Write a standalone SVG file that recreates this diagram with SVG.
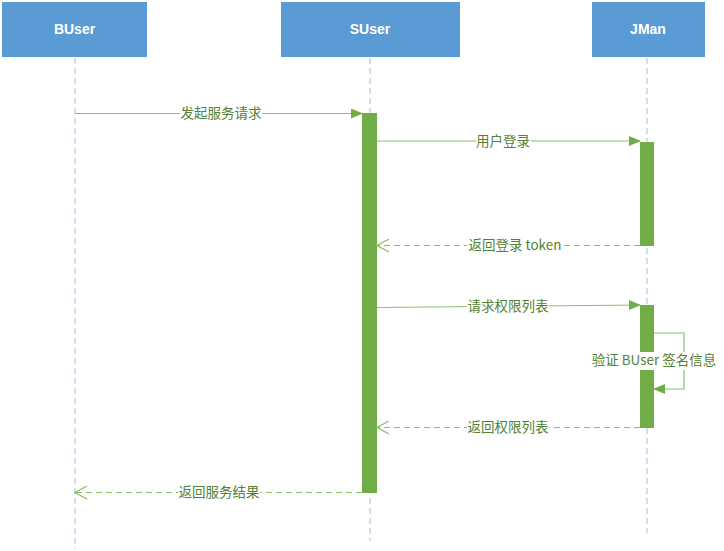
<svg xmlns="http://www.w3.org/2000/svg" width="724" height="551" viewBox="0 0 724 551">
<style>
.box{fill:#5B9BD5;stroke:#ffffff;stroke-width:1}
.title{font-family:"Liberation Sans","Noto Sans CJK SC",sans-serif;font-size:14px;font-weight:bold;fill:#ffffff;text-anchor:middle}
.life{stroke:#9DC3E6;stroke-width:1;stroke-dasharray:6,4;fill:none}
.act{fill:#70AD47;stroke:none}
.msg{stroke:#8DBE6A;stroke-width:1.2;fill:none}
.ret{stroke:#8DBE6A;stroke-width:1.2;fill:none;stroke-dasharray:6,4}
.lbl{font-family:"Noto Sans CJK SC","Liberation Sans",sans-serif;font-size:13.5px;fill:#538135;text-anchor:middle}
.bg{fill:#ffffff}
</style>
<defs>
<marker id="fill" markerWidth="12" markerHeight="10" refX="11" refY="5" orient="auto" markerUnits="userSpaceOnUse">
<path d="M0,0 L12,5 L0,10 Z" fill="#70AD47"/>
</marker>
<marker id="open" markerWidth="14" markerHeight="14" refX="13" refY="7" orient="auto" markerUnits="userSpaceOnUse">
<path d="M1,0.5 L13,7 L1,13.5" fill="none" stroke="#8DBE6A" stroke-width="1.2"/>
</marker>
</defs>
<rect width="724" height="551" fill="#ffffff"/>
<g id="BUser">
<rect class="box" x="1.5" y="1.5" width="146" height="56"/>
<text class="title" x="74.5" y="34">BUser</text>
<line class="life" x1="75" y1="58" x2="75" y2="549"/>
</g>
<g id="SUser">
<rect class="box" x="280.5" y="1.5" width="180" height="56"/>
<text class="title" x="370" y="34">SUser</text>
<line class="life" x1="370" y1="58" x2="370" y2="541"/>
<rect class="act" x="362" y="113" width="15" height="380"/>
</g>
<g id="JMan">
<rect class="box" x="591.5" y="1.5" width="114" height="56"/>
<text class="title" x="648" y="34">JMan</text>
<line class="life" x1="647" y1="58" x2="647" y2="533"/>
<rect class="act" x="640" y="142" width="14" height="104"/>
<rect class="act" x="640" y="305" width="14" height="48"/>
<rect class="act" x="640" y="370" width="14" height="58"/>
</g>
<g id="connectors">
<line class="msg" x1="75" y1="113.5" x2="362" y2="113.5" marker-end="url(#fill)"/>
<rect class="bg" x="180" y="105" width="82" height="17"/>
<text class="lbl" x="221" y="118">发起服务请求</text>

<line class="msg" x1="377" y1="141" x2="640" y2="141" marker-end="url(#fill)"/>
<rect class="bg" x="476" y="133" width="55" height="17"/>
<text class="lbl" x="503" y="146">用户登录</text>

<line class="ret" x1="640" y1="245.5" x2="377" y2="245.5" marker-end="url(#open)"/>
<rect class="bg" x="467" y="237" width="97" height="17"/>
<text class="lbl" x="515" y="250">返回登录 token</text>

<line class="msg" x1="377" y1="307.5" x2="640" y2="305" marker-end="url(#fill)"/>
<rect class="bg" x="467" y="298" width="82" height="17"/>
<text class="lbl" x="508" y="311">请求权限列表</text>

<polyline class="msg" points="654,333 684,333 684,389 654,389" marker-end="url(#fill)"/>
<rect class="bg" x="590" y="352" width="129" height="18"/>
<text class="lbl" x="654" y="365">验证 BUser 签名信息</text>

<line class="ret" x1="640" y1="427.5" x2="377" y2="427.5" marker-end="url(#open)"/>
<rect class="bg" x="467" y="419" width="82" height="17"/>
<text class="lbl" x="508" y="432">返回权限列表</text>

<line class="ret" x1="362" y1="492.5" x2="75" y2="492.5" marker-end="url(#open)"/>
<rect class="bg" x="178" y="484" width="82" height="17"/>
<text class="lbl" x="219" y="497">返回服务结果</text>
</g>
</svg>
